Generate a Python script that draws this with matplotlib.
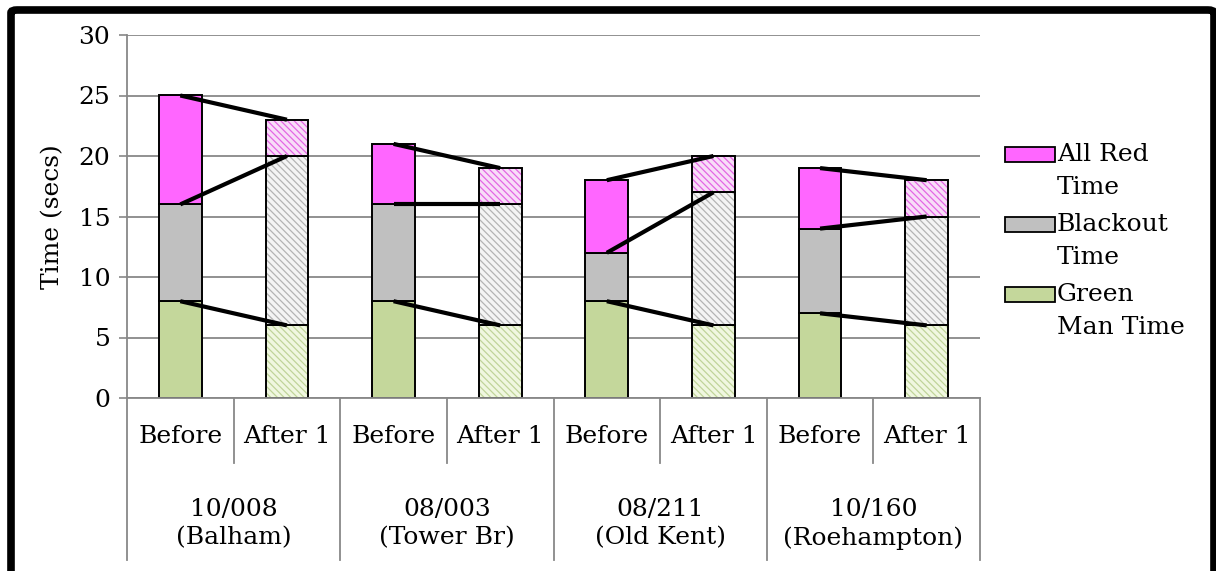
import matplotlib.pyplot as plt
from matplotlib.patches import Rectangle, FancyBboxPatch
from matplotlib.transforms import blended_transform_factory
import numpy as np

plt.rcParams['font.family'] = 'DejaVu Serif'
plt.rcParams['hatch.linewidth'] = 0.9

# data
sites = ["10/008\n(Balham)", "08/003\n(Tower Br)", "08/211\n(Old Kent)", "10/160\n(Roehampton)"]
phases = ["Before", "After 1"]
green_man = [8, 6, 8, 6, 8, 6, 7, 6]
blackout = [8, 14, 8, 10, 4, 11, 7, 9]
all_red = [9, 3, 5, 3, 6, 3, 5, 3]

series_names = ["All Red\nTime", "Blackout\nTime", "Green\nMan Time"]
solid_colors = ["#FF66FF", "#C0C0C0", "#C4D79B"]
hatch_colors = ["#E466E4", "#B4B4B4", "#C0D49A"]
light_colors = ["#F8DDF8", "#F4F4F4", "#F0F7E0"]

W, H = 1216, 571
fs = 18
fig = plt.figure(figsize=(W / 100, H / 100), dpi=100)

# outer black frame
frame = FancyBboxPatch((11 / W, -20 / H), 1203 / W, (H - 10 + 20) / H,
                       boxstyle="round,pad=0,rounding_size=0.005",
                       transform=fig.transFigure, fill=False, edgecolor="black", linewidth=5.5)
fig.patches.append(frame)

ax = fig.add_axes([127 / W, (H - 398) / H, (980 - 127) / W, (398 - 35) / H])

x = np.arange(len(green_man))
width = 0.4
stacks = [green_man, blackout, all_red]
layer_colors = list(zip(solid_colors, hatch_colors, light_colors))[::-1]
bottom = np.zeros(len(x))
tops = []
for vals, (solid, hcol, light) in zip(stacks, layer_colors):
    vals = np.array(vals, dtype=float)
    for i in range(len(x)):
        if i % 2 == 0:
            ax.bar(x[i], vals[i], width, bottom=bottom[i], color=solid,
                   edgecolor="black", linewidth=1.4, zorder=2)
        else:
            ax.bar(x[i], vals[i], width, bottom=bottom[i], color=light,
                   edgecolor=hcol, hatch="\\\\\\\\\\", linewidth=0, zorder=2)
            ax.bar(x[i], vals[i], width, bottom=bottom[i], fill=False,
                   edgecolor="black", linewidth=1.4, zorder=2)
    bottom = bottom + vals
    tops.append(bottom.copy())

# series lines joining before and after
for top in tops:
    for g in range(len(sites)):
        ax.plot([x[2 * g], x[2 * g + 1]], [top[2 * g], top[2 * g + 1]],
                color="black", linewidth=3, solid_capstyle="butt", zorder=3)

ax.set_xlim(-0.5, len(x) - 0.5)
ax.set_ylim(0, 30)
ax.set_yticks(range(0, 31, 5))
ax.tick_params(axis="y", labelsize=fs, length=6, color="#888888", width=1.2, pad=6)
ax.set_xticks([])
ax.yaxis.grid(True, color="#888888", linewidth=1.3, zorder=0)
ax.set_axisbelow(True)
for s in ["top", "right"]:
    ax.spines[s].set_visible(False)
for s in ["left", "bottom"]:
    ax.spines[s].set_color("#888888")
    ax.spines[s].set_linewidth(1.3)
ax.set_ylabel("Time (secs)", fontsize=fs, labelpad=10)

# two-level category axis
trans = blended_transform_factory(ax.transData, ax.transAxes)
for i in range(len(x)):
    ax.text(x[i], -0.107, phases[i % 2], transform=trans, ha="center", va="center", fontsize=fs)
for g in range(len(sites)):
    ax.text(2 * g + 0.5, -0.347, sites[g], transform=trans, ha="center", va="center",
            fontsize=fs, linespacing=1.3)
    ax.plot([2 * g + 0.5, 2 * g + 0.5], [0, -0.179], transform=trans, color="#888888",
            linewidth=1.3, clip_on=False)
for b in range(len(sites) + 1):
    ax.plot([2 * b - 0.5, 2 * b - 0.5], [0, -0.446], transform=trans, color="#888888",
            linewidth=1.3, clip_on=False)

# legend drawn by hand
for k, (name, col) in enumerate(zip(series_names, solid_colors)):
    top_px = 147 + 70 * k
    fig.patches.append(Rectangle((1005 / W, (H - top_px - 15) / H), 50 / W, 15 / H,
                                 transform=fig.transFigure, facecolor=col,
                                 edgecolor="black", linewidth=1.3))
    fig.text(1057 / W, (H - top_px + 4) / H, name, fontsize=fs, ha="left", va="top",
             linespacing=1.55)

fig.savefig("out.png", dpi=100)
